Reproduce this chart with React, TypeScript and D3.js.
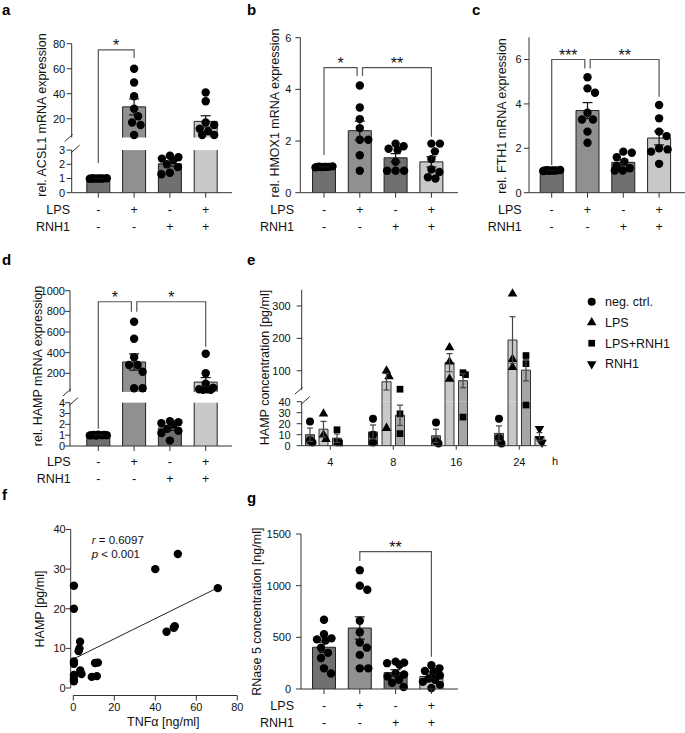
import React from "react";
import * as d3 from "d3";

const FONT = "'Liberation Sans', Arial, Helvetica, sans-serif";
const INK = "#111";
const AXIS = "#333";
const BRACKET = "#555";

// ---------- data ----------
const lpsRow = ["-", "+", "-", "+"];
const rnh1Row = ["-", "-", "+", "+"];
const barFills = ["#707070", "#909090", "#707070", "#c8c8c8"];

// a: rel. ACSL1 mRNA expression (dots per condition)
const acsl1 = [
  [1.0, 1.02, 0.98, 1.0, 1.01, 0.99, 1.0, 1.0],
  [60, 49, 38, 28, 22, 17, 15, 7],
  [2.6, 2.5, 2.4, 2.3, 2.0, 1.8, 1.4, 1.3],
  [41, 34, 17, 15, 12, 10, 7, 7],
];
// b: rel. HMOX1
const hmox1 = [
  [1.0, 1.02, 0.98, 1.0, 1.01, 0.99, 1.0, 1.0],
  [4.15, 3.3, 2.85, 2.5, 2.05, 2.05, 1.45, 0.85],
  [1.9, 1.8, 1.7, 1.65, 1.2, 0.85, 0.85, 0.85],
  [1.9, 1.9, 1.6, 1.3, 0.9, 0.8, 0.6, 0.55],
];
// c: rel. FTH1
const fth1 = [
  [1.0, 1.02, 0.98, 1.0, 1.01, 0.99, 1.0, 1.0],
  [5.2, 4.7, 4.5, 3.6, 3.3, 3.3, 2.75, 2.25],
  [1.85, 1.8, 1.6, 1.4, 1.2, 1.1, 1.0, 1.0],
  [3.95, 3.35, 2.75, 2.55, 2.0, 1.95, 1.85, 1.3],
];
// d: rel. HAMP
const hampRel = [
  [1.05, 1.0, 0.98, 1.0, 1.02, 0.97, 1.0, 1.03],
  [700, 535, 355, 280, 280, 215, 55, 55],
  [2.3, 2.2, 2.1, 2.0, 1.6, 1.4, 1.2, 0.5],
  [390, 200, 100, 60, 45, 45, 40, 40],
];
// g: RNase 5 concentration
const rnase5 = [
  [670, 530, 490, 480, 470, 400, 350, 300, 200, 150],
  [1150, 1000, 960, 660, 550, 450, 400, 330, 200, 200],
  [265, 255, 250, 235, 150, 140, 120, 90, 60, 20],
  [230, 200, 175, 165, 130, 100, 90, 70, 40, 10],
];

// e: HAMP concentration over time
const timepoints = ["4", "8", "16", "24"];
const eSeriesNames = ["neg. ctrl.", "LPS", "LPS+RNH1", "RNH1"];
const negCtrlConc = [[22, 5, 3], [24.5, 10, 3], [21, 4, 2], [24.5, 7, 2]];
const lpsConc = [[29, 10, 6], [100, 82, 16], [172, 128, 75], [338, 136, 111]];
const lpsRnh1Conc = [[14.5, 3.5, 2.5], [43, 29, 11], [94, 88, 26], [147, 122, 37]];
const rnh1Conc = [null, null, null, [15.5, 6, 3]];
const eFills = ["#7a7a7a", "#c8c8c8", "#a6a6a6", "#c8c8c8"];

// f: TNFa vs HAMP
const tnfA = [0.3, 0.3, 0.3, 0.3, 0.3, 0.3, 0.3, 3.3, 3.0, 2.6, 3.4, 4.0, 9.0, 10.6, 12.0, 11.5, 40, 51, 45.5, 49, 49.5, 70.5];
const hampF = [25.8, 20, 6.7, 6.1, 3.3, 2.3, 1.7, 11.7, 10.0, 9.3, 4.4, 3.5, 2.8, 6.3, 6.4, 3.0, 30, 33.8, 14.2, 15.2, 15.6, 25.2];
const fitX = [0, 70.5];
const fitY = [7.3, 25.3];

// ---------- helpers ----------
type Seg = { domain: [number, number]; range: [number, number] };

function segScale(segs: Seg[]) {
  const sc = segs.map((s) => d3.scaleLinear().domain(s.domain).range(s.range));
  return (v: number) => {
    for (let i = 0; i < segs.length; i++) {
      const [lo, hi] = segs[i].domain;
      if (v < lo && i > 0) {
        const pt = segs[i - 1].domain[1];
        const t = (v - pt) / (lo - pt);
        return segs[i - 1].range[1] + t * (segs[i].range[0] - segs[i - 1].range[1]);
      }
      if (v <= hi || i === segs.length - 1) return sc[i](v);
    }
    return sc[sc.length - 1](v);
  };
}

function swarm(ys: number[], r: number, maxOff: number): number[] {
  const placed: [number, number][] = [];
  const cands: number[] = [0];
  for (let c = 0.5; c <= maxOff + 1e-9; c += 0.5) cands.push(c, -c);
  return ys.map((y) => {
    let best = 0;
    let bestD = -1;
    for (const c of cands) {
      let dmin = Infinity;
      for (const [px, py] of placed) dmin = Math.min(dmin, Math.hypot(px - c, py - y));
      if (dmin >= 2 * r) { best = c; break; }
      if (dmin > bestD + 1e-6) { bestD = dmin; best = c; }
    }
    placed.push([best, y]);
    return best;
  });
}

const stat = (v: number[]) => ({ m: d3.mean(v) as number, s: (d3.deviation(v) as number) / Math.sqrt(v.length) });

function YAxis({ x, segs, ticks, y, gap }: any) {
  const breaks = segs.slice(1).map((s: Seg, i: number) => {
    const lowTop = segs[i].range[1];
    const upBot = s.range[0];
    return (
      <g key={"br" + i} stroke={AXIS} strokeWidth={1}>
        <line x1={x - 7} y1={upBot + 4} x2={x + 1} y2={upBot - 3} />
        <line x1={x - 1} y1={lowTop + 3} x2={x + 8} y2={lowTop - 5} />
      </g>
    );
  });
  return (
    <g>
      {segs.map((s: Seg, i: number) => (
        <line key={i} x1={x} x2={x} y1={s.range[0]} y2={s.range[1]} stroke={AXIS} />
      ))}
      {ticks.map((t: number) => (
        <g key={t}>
          <line x1={x - 5} x2={x} y1={y(t)} y2={y(t)} stroke={AXIS} />
          <text x={x - gap} y={y(t)} dy="0.35em" textAnchor="end" fontSize={11} fill={INK}>{t}</text>
        </g>
      ))}
      {breaks}
    </g>
  );
}

function YTitle({ x, y, text }: any) {
  return (
    <text transform={`translate(${x},${y}) rotate(-90)`} textAnchor="middle" dy="0.35em" fontSize={12.5} fill={INK}>{text}</text>
  );
}

function Letter({ x, y, t }: any) {
  return <text x={x} y={y} fontSize={15} fontWeight="bold" fill="#000">{t}</text>;
}

// draws a bar split over axis segments
function SegBar({ segs, y, x, w, value, fill, stroke }: any) {
  const pieces = segs
    .filter((s: Seg) => value > s.domain[0])
    .map((s: Seg) => ({ lo: s.domain[0], hi: Math.min(value, s.domain[1]), top: value <= s.domain[1] }));
  return (
    <g>
      {pieces.map((p: any, i: number) => {
        const y0 = y(p.lo);
        const y1 = y(p.hi);
        return (
          <g key={i}>
            <rect x={x} y={y1} width={w} height={y0 - y1} fill={fill} />
            <path d={`M${x},${y0}V${y1}${p.top ? `H${x + w}` : `M${x + w},${y1}`}V${y0}`} fill="none" stroke={stroke} strokeWidth={1} />
          </g>
        );
      })}
    </g>
  );
}

function ErrBar({ segs, y, cx, m, s, cap, color }: any) {
  const a = m - s;
  const b = m + s;
  const parts = segs
    .map((sg: Seg) => [Math.max(a, sg.domain[0]), Math.min(b, sg.domain[1])])
    .filter(([l, h]: number[]) => h > l);
  const inSeg = (v: number) => segs.some((sg: Seg) => v >= sg.domain[0] && v <= sg.domain[1]);
  return (
    <g stroke={color} strokeWidth={1.2}>
      {parts.map(([l, h]: number[], i: number) => (
        <line key={i} x1={cx} x2={cx} y1={y(l)} y2={y(h)} />
      ))}
      {[a, b].filter(inSeg).map((v, i) => (
        <line key={"c" + i} x1={cx - cap / 2} x2={cx + cap / 2} y1={y(v)} y2={y(v)} />
      ))}
    </g>
  );
}

const BW = 23;
const STEP = 35.8;
const DOT_R = 4.2;

function BarPanel({ p }: any) {
  const y = segScale(p.segs);
  const n = p.values.length;
  const pad = (STEP - BW) / STEP;
  const x = d3
    .scaleBand<number>()
    .domain(d3.range(n))
    .range([p.firstCenter - BW / 2, p.firstCenter - BW / 2 + STEP * (n - pad)])
    .paddingInner(pad);
  const cx = (i: number) => (x(i) as number) + x.bandwidth() / 2;
  const base = p.segs[0].range[0];
  const uses: Record<number, number> = {};
  p.brackets.forEach((b: any) => {
    uses[b.a] = (uses[b.a] || 0) + 1;
    uses[b.b] = (uses[b.b] || 0) + 1;
  });
  return (
    <g>
      <Letter x={p.letterX} y={p.letterY} t={p.letter} />
      {p.values.map((vals: number[], i: number) => {
        const st = stat(vals);
        const ys = vals.map((v) => y(v));
        const offs = swarm(ys, DOT_R, x.bandwidth() / 2 - 3);
        return (
          <g key={i}>
            <SegBar segs={p.segs} y={y} x={x(i)} w={x.bandwidth()} value={st.m} fill={barFills[i]} stroke="#222" />
            {ys.map((yy, k) => (
              <circle key={k} cx={cx(i) + offs[k]} cy={yy} r={DOT_R} fill="#000" />
            ))}
            <ErrBar segs={p.segs} y={y} cx={cx(i)} m={st.m} s={st.s} cap={10} color="#111" />
          </g>
        );
      })}
      <YAxis x={p.axisX} segs={p.segs} ticks={p.ticks} y={y} gap={p.labelGap} />
      <line x1={p.axisX} x2={p.axisEnd} y1={base} y2={base} stroke={AXIS} />
      {p.values.map((_: any, i: number) => (
        <line key={i} x1={cx(i)} x2={cx(i)} y1={base} y2={base + 5} stroke={AXIS} />
      ))}
      <text x={p.rowX} y={p.lpsY} textAnchor="end" fontSize={12.5} fill={INK}>LPS</text>
      <text x={p.rowX} y={p.rnhY} textAnchor="end" fontSize={12.5} fill={INK}>RNH1</text>
      {lpsRow.map((s, i) => (
        <text key={"l" + i} x={cx(i)} y={p.lpsY} textAnchor="middle" fontSize={12.5} fill={INK}>{s}</text>
      ))}
      {rnh1Row.map((s, i) => (
        <text key={"r" + i} x={cx(i)} y={p.rnhY} textAnchor="middle" fontSize={12.5} fill={INK}>{s}</text>
      ))}
      <YTitle x={p.titleX} y={p.titleY} text={p.title} />
      {p.brackets.map((b: any, i: number) => {
        const xa = cx(b.a) + (uses[b.a] > 1 ? 2.7 : 0);
        const xb = cx(b.b) - (uses[b.b] > 1 ? 2.7 : 0);
        const yt = y(b.top);
        return (
          <g key={"b" + i}>
            <path d={`M${xa},${y(b.legA)}V${yt}H${xb}V${y(b.legB)}`} fill="none" stroke={BRACKET} strokeWidth={1.2} />
            <text x={(xa + xb) / 2} y={yt + 1.2} textAnchor="middle" fontSize={16} fill={INK}>{b.label}</text>
          </g>
        );
      })}
    </g>
  );
}

const panelA = {
  letter: "a", letterX: 2, letterY: 15, values: acsl1,
  axisX: 71.7, axisEnd: 232, labelGap: 6.5,
  segs: [{ domain: [0, 3], range: [192.7, 150.1] }, { domain: [5, 80], range: [137.5, 43.7] }],
  ticks: [0, 1, 2, 3, 20, 40, 60, 80],
  firstCenter: 98.3, rowX: 70, lpsY: 214, rnhY: 230.7,
  title: "rel. ACSL1 mRNA expression", titleX: 41.7, titleY: 115,
  brackets: [{ a: 0, b: 1, top: 75, legA: 2.1, legB: 68.6, label: "*" }],
};
const panelB = {
  letter: "b", letterX: 247, letterY: 15, values: hmox1,
  axisX: 300.3, axisEnd: 458, labelGap: 9,
  segs: [{ domain: [0, 6], range: [192.7, 37.7] }],
  ticks: [0, 2, 4, 6],
  firstCenter: 324, rowX: 294, lpsY: 214, rnhY: 230.7,
  title: "rel. HMOX1 mRNA expression", titleX: 275, titleY: 113,
  brackets: [
    { a: 0, b: 1, top: 4.84, legA: 1.46, legB: 4.52, label: "*" },
    { a: 1, b: 3, top: 4.84, legA: 4.52, legB: 2.17, label: "**" },
  ],
};
const panelC = {
  letter: "c", letterX: 472, letterY: 15, values: fth1,
  axisX: 529, axisEnd: 690, labelGap: 7.3,
  segs: [{ domain: [0, 7], range: [192.7, 37.3] }],
  ticks: [0, 2, 4, 6],
  firstCenter: 551.7, rowX: 521.7, lpsY: 214, rnhY: 230.7,
  title: "rel. FTH1 mRNA expression", titleX: 501.7, titleY: 116,
  brackets: [
    { a: 0, b: 1, top: 6.0, legA: 1.25, legB: 5.6, label: "***" },
    { a: 1, b: 3, top: 6.0, legA: 5.6, legB: 4.32, label: "**" },
  ],
};
const panelD = {
  letter: "d", letterX: 2, letterY: 265, values: hampRel,
  axisX: 70, axisEnd: 232, labelGap: 5,
  segs: [{ domain: [0, 4], range: [446, 402.7] }, { domain: [20, 1000], range: [391.9, 290.7] }],
  ticks: [0, 1, 2, 3, 4, 200, 400, 600, 800, 1000],
  firstCenter: 98.3, rowX: 70.7, lpsY: 466, rnhY: 483,
  title: "rel. HAMP mRNA expression", titleX: 37.5, titleY: 366,
  brackets: [
    { a: 0, b: 1, top: 893, legA: 1.6, legB: 796, label: "*" },
    { a: 1, b: 3, top: 893, legA: 796, legB: 457, label: "*" },
  ],
};
const panelG = {
  letter: "g", letterX: 247, letterY: 503, values: rnase5,
  axisX: 301, axisEnd: 458, labelGap: 10,
  segs: [{ domain: [0, 1500], range: [689, 534] }],
  ticks: [0, 500, 1000, 1500],
  firstCenter: 324, rowX: 294, lpsY: 710, rnhY: 726.7,
  title: "RNase 5 concentration [ng/ml]", titleX: 256.7, titleY: 611.7,
  brackets: [{ a: 1, b: 3, top: 1329, legA: 1239, legB: 313, label: "**" }],
};

const symbolTypes = [d3.symbolCircle, d3.symbolTriangle, d3.symbolSquare, d3.symbolTriangle];
const symbolSizes = [50, 40, 45, 40];
const symbolRot = [0, 0, 0, 180];

function Marker({ k, x, y }: any) {
  const d = d3.symbol().type(symbolTypes[k]).size(symbolSizes[k])() as string;
  return <path d={d} transform={`translate(${x},${y}) rotate(${symbolRot[k]})`} fill="#000" />;
}

function PanelE() {
  const segs: Seg[] = [
    { domain: [0, 40], range: [445.7, 401.7] },
    { domain: [40, 350], range: [390.2, 289.8] },
  ];
  const y = segScale(segs);
  const axisX = 301.7;
  const base = 445.7;
  const gx = d3.scaleBand().domain(timepoints).range([303.25, 546.25]).paddingInner(9 / 63);
  const sx = d3
    .scaleBand()
    .domain(eSeriesNames)
    .range([0, gx.bandwidth()])
    .paddingInner(1 / 3)
    .paddingOuter(1 / 6);
  const series = [negCtrlConc, lpsConc, lpsRnh1Conc, rnh1Conc];
  const w = sx.bandwidth();
  const legendY = d3.scaleLinear().domain([0, 3]).range([301.7, 364]);
  return (
    <g>
      <Letter x={247} y={265} t="e" />
      {timepoints.map((t, ti) =>
        series.map((ser, si) => {
          const vals = ser[ti];
          if (!vals) return null;
          const st = stat(vals);
          const x0 = (gx(t) as number) + (sx(eSeriesNames[si]) as number);
          const cx = x0 + w / 2;
          const ys = vals.map((v) => y(v));
          const offs = swarm(ys, 3.6, 2.5);
          return (
            <g key={t + si}>
              <SegBar segs={segs} y={y} x={x0} w={w} value={st.m} fill={eFills[si]} stroke="#333" />
              {ys.map((yy, k) => (
                <Marker key={k} k={si} x={cx + offs[k]} y={yy} />
              ))}
              <ErrBar segs={segs} y={y} cx={cx} m={st.m} s={st.s} cap={6} color="#444" />
            </g>
          );
        })
      )}
      <YAxis x={axisX} segs={segs} ticks={[0, 10, 20, 30, 40, 100, 200, 300]} y={y} gap={11} />
      <line x1={axisX} x2={546.7} y1={base} y2={base} stroke={AXIS} />
      {timepoints.map((t) => {
        const c = (gx(t) as number) + gx.bandwidth() / 2;
        return (
          <g key={t}>
            <line x1={c} x2={c} y1={base} y2={base + 4} stroke={AXIS} />
            <text x={c} y={466} textAnchor="middle" fontSize={11} fill={INK}>{t}</text>
          </g>
        );
      })}
      <text x={555} y={465} textAnchor="middle" fontSize={11} fill={INK}>h</text>
      <YTitle x={265} y={367.5} text="HAMP concentration [pg/ml]" />
      {eSeriesNames.map((nm, k) => (
        <g key={nm}>
          <Marker k={k} x={591.7} y={legendY(k)} />
          <text x={605} y={legendY(k)} dy="0.35em" fontSize={12.5} fill={INK}>{nm}</text>
        </g>
      ))}
    </g>
  );
}

function PanelF() {
  const x = d3.scaleLinear().domain([0, 80]).range([73.3, 237.3]);
  const y = d3.scaleLinear().domain([0, 40]).range([688, 529.5]);
  const axisX = 70.7;
  const axisY = 695.5;
  const line = d3.line<number>().x((d) => x(d)).y((_, i) => y(fitY[i]));
  return (
    <g>
      <Letter x={2} y={500} t="f" />
      <line x1={axisX} x2={axisX} y1={y(0)} y2={y(40)} stroke={AXIS} />
      {[0, 10, 20, 30, 40].map((t) => (
        <g key={t}>
          <line x1={axisX - 5} x2={axisX} y1={y(t)} y2={y(t)} stroke={AXIS} />
          <text x={axisX - 5} y={y(t)} dy="0.35em" textAnchor="end" fontSize={11} fill={INK}>{t}</text>
        </g>
      ))}
      <line x1={x(0)} x2={x(80)} y1={axisY} y2={axisY} stroke={AXIS} />
      {[0, 20, 40, 60, 80].map((t) => (
        <g key={t}>
          <line x1={x(t)} x2={x(t)} y1={axisY} y2={axisY + 5} stroke={AXIS} />
          <text x={x(t)} y={axisY + 15} textAnchor="middle" fontSize={11} fill={INK}>{t}</text>
        </g>
      ))}
      <path d={line(fitX) as string} stroke="#222" strokeWidth={1} fill="none" />
      {tnfA.map((t, i) => (
        <circle key={i} cx={x(t)} cy={y(hampF[i])} r={DOT_R} fill="#000" />
      ))}
      <text x={91.7} y={544} fontSize={11.5} fill={INK}>
        <tspan fontStyle="italic">r</tspan> = 0.6097
      </text>
      <text x={91.7} y={558} fontSize={11.5} fill={INK}>
        <tspan fontStyle="italic">p</tspan> &lt; 0.001
      </text>
      <text x={163.3} y={726} textAnchor="middle" fontSize={12.5} fill={INK}>TNFα [ng/ml]</text>
      <YTitle x={39.3} y={609} text="HAMP [pg/ml]" />
    </g>
  );
}

export default function App() {
  return (
    <svg
      width={685}
      height={733}
      viewBox="0 0 685 733"
      style={{ position: "absolute", left: 0, top: 0, background: "#fff" }}
      fontFamily={FONT}
    >
      <rect width={685} height={733} fill="#fff" />
      <BarPanel p={panelA} />
      <BarPanel p={panelB} />
      <BarPanel p={panelC} />
      <BarPanel p={panelD} />
      <PanelE />
      <PanelF />
      <BarPanel p={panelG} />
    </svg>
  );
}
